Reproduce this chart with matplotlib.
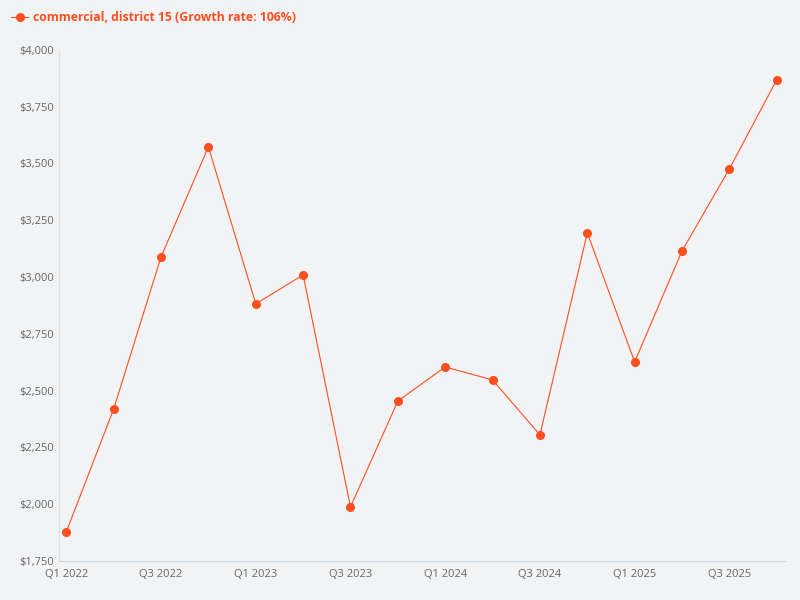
import matplotlib
matplotlib.use("Agg")
import matplotlib.pyplot as plt
from matplotlib.ticker import FuncFormatter

quarters = [f"Q{q} {y}" for y in range(2022, 2026) for q in range(1, 5)]
values = [1878, 2419, 3088, 3573, 2882, 3009, 1988, 2454, 2604, 2547, 2305, 3194, 2626, 3115, 3476, 3868]
series_name = "commercial, district 15 (Growth rate: 106%)"

bg = "#f2f3f5"
col = "#ff4f1f"
plt.rcParams['font.family'] = ['Open Sans', 'DejaVu Sans']
fig = plt.figure(figsize=(8, 6), dpi=100, facecolor=bg)
ax = fig.add_axes([0.074, 0.065, 0.907, 0.852], facecolor=bg)
x = list(range(len(values)))
ax.plot(x, values, color=col, lw=0.8, marker='o', ms=5.5, label=series_name)
ax.set_xlim(-0.15, 15.17)
ax.set_ylim(1750, 4000)
ax.set_yticks(range(1750, 4001, 250))
ax.yaxis.set_major_formatter(FuncFormatter(lambda v, p: f"${v:,.0f}"))
ax.set_xticks(x[::2])
ax.set_xticklabels(quarters[::2])
ax.tick_params(colors="#666666", labelsize=8, length=0)
ax.tick_params(axis='x', pad=6)
for s in ['top', 'right']:
    ax.spines[s].set_visible(False)
ax.spines['left'].set_color("#dde0e4")
ax.spines['bottom'].set_color("#c8d6e5")
leg = fig.legend(loc='upper left', bbox_to_anchor=(0.0, 1.0), frameon=False,
                 prop={'weight': 'bold', 'size': 8.8}, handlelength=1.4, handletextpad=0.4)
for t in leg.get_texts():
    t.set_color(col)
fig.savefig("out.png", dpi=100, facecolor=bg)
